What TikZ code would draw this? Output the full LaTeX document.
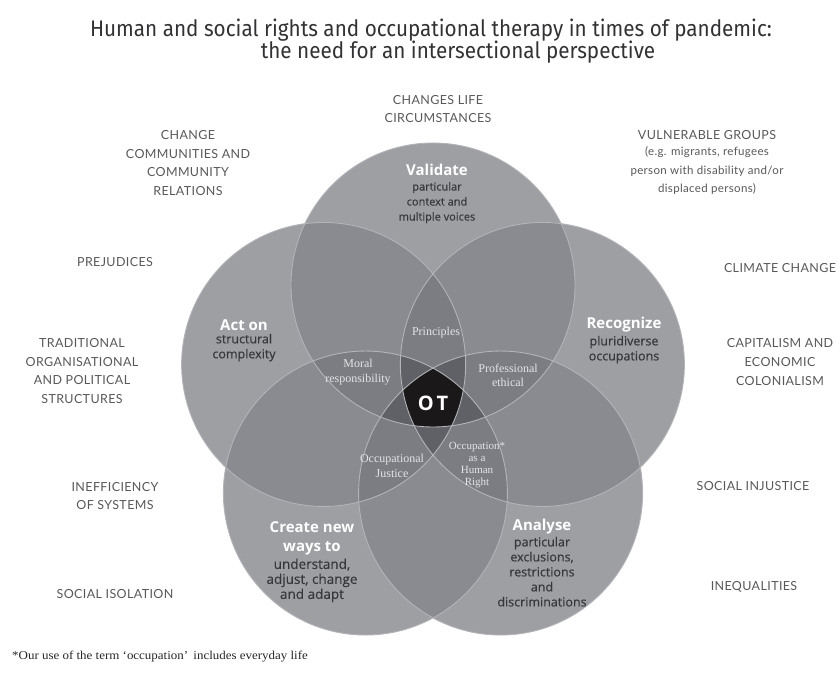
\documentclass[tikz,border=0pt]{standalone}
\usepackage{fontspec}
\setmainfont{Liberation Serif}
\newfontfamily\titlefont[FakeStretch=0.92]{Fira Sans}
\newfontfamily\headfont{Open Sans}
\newfontfamily\bodyfont[FakeBold=0.4]{Open Sans}
\newfontfamily\ctxfont[LetterSpace=3]{Lato}
\newfontfamily\notefont[FakeStretch=1.08]{Liberation Serif}
\usetikzlibrary{positioning}
\definecolor{ring1}{RGB}{157,159,163}
\definecolor{ring2}{RGB}{137,139,144}
\definecolor{ring3}{RGB}{123,125,130}
\definecolor{ring4}{RGB}{95,97,102}
\definecolor{ring5}{RGB}{27,24,25}
\definecolor{ringedge}{RGB}{178,180,183}
\definecolor{ctxtext}{RGB}{88,88,90}
\definecolor{ringtext}{RGB}{55,56,60}
\definecolor{meettext}{RGB}{228,228,230}
\definecolor{titletext}{RGB}{50,50,52}

\begin{document}
\begin{tikzpicture}[x=1pt, y=1pt,
    ctxlabel/.style={align=center, inner sep=0pt, text=ctxtext, font=\ctxfont\fontsize{12.5}{18.7}\selectfont},
    ringhead/.style={align=center, inner sep=0pt, text=white, font=\headfont\bfseries\fontsize{15}{19}\selectfont},
    ringbody/.style={align=center, inner sep=0pt, text=ringtext, font=\bodyfont\fontsize{#1}{15}\selectfont},
    ringbody/.default=12.5,
    meetlabel/.style={align=center, inner sep=0pt, text=meettext, font=\fontsize{12}{14.5}\selectfont},
    ringedgeline/.style={draw=ringedge, line width=0.9pt}]
    \useasboundingbox (0,0) rectangle (840,679);
    \def\vennr{142pt}

    % Title
    \node[font=\titlefont\fontsize{22.5}{21}\selectfont, text=titletext, inner sep=0pt] (title1) at (431,649) {Human and social rights and occupational therapy in times of pandemic:};
    \node[font=\titlefont\fontsize{22.5}{21}\selectfont, text=titletext, inner sep=0pt] (title2) at (458,627) {the need for an intersectional perspective};

    % Circle centres on a pentagon
    \coordinate (O) at (433,279);
    \foreach \n/\a in {1/90,2/18,3/-54,4/-126,5/162}
        \path (O) ++(\a:115) coordinate (c\n);

    % Regions, darker with each overlap
    \foreach \i in {1,...,5}
        \fill[ring1] (c\i) circle[radius=\vennr];
    \foreach \i/\j in {1/2,1/3,1/4,1/5,2/3,2/4,2/5,3/4,3/5,4/5}{
        \begin{scope}
            \clip (c\i) circle[radius=\vennr];
            \fill[ring2] (c\j) circle[radius=\vennr];
        \end{scope}
    }
    \foreach \i/\j/\k in {1/2/3,1/2/4,1/2/5,1/3/4,1/3/5,1/4/5,2/3/4,2/3/5,2/4/5,3/4/5}{
        \begin{scope}
            \clip (c\i) circle[radius=\vennr];
            \clip (c\j) circle[radius=\vennr];
            \fill[ring3] (c\k) circle[radius=\vennr];
        \end{scope}
    }
    \foreach \i/\j/\k/\l in {2/3/4/5,1/3/4/5,1/2/4/5,1/2/3/5,1/2/3/4}{
        \begin{scope}
            \clip (c\i) circle[radius=\vennr];
            \clip (c\j) circle[radius=\vennr];
            \clip (c\k) circle[radius=\vennr];
            \fill[ring4] (c\l) circle[radius=\vennr];
        \end{scope}
    }
    \begin{scope}
        \clip (c1) circle[radius=\vennr];
        \clip (c2) circle[radius=\vennr];
        \clip (c3) circle[radius=\vennr];
        \clip (c4) circle[radius=\vennr];
        \fill[ring5] (c5) circle[radius=\vennr];
    \end{scope}
    \foreach \i in {1,...,5}
        \draw[ringedgeline] (c\i) circle[radius=\vennr];

    % Circle texts
    \node[ringhead] (validate) at (437,509) {Validate};
    \node[ringbody=11, below=6pt of validate] (validatetxt) {particular\\context and\\multiple voices};
    \node[ringhead] (acton) at (244,354) {Act on};
    \node[ringbody, below=3pt of acton] (actontxt) {structural\\complexity};
    \node[ringhead] (recognize) at (624,354) {Recognize};
    \node[ringbody, below=3pt of recognize] (recognizetxt) {pluridiverse\\occupations};
    \node[ringhead] (create) at (312,140.5) {Create new\\ways to};
    \node[ringbody=13.5, below=3pt of create] (createtxt) {understand,\\adjust, change\\and adapt};
    \node[ringhead] (analyse) at (542,152) {Analyse};
    \node[ringbody, below=2pt of analyse] (analysetxt) {particular\\exclusions,\\restrictions\\and\\discriminations};

    % Overlap texts
    \node[meetlabel] (principles) at (436,346) {Principles};
    \node[meetlabel] (moral) at (358,307) {Moral\\responsibility};
    \node[meetlabel] (ethical) at (508,303.5) {Professional\\ethical};
    \node[meetlabel] (justice) at (392,213) {Occupational\\Justice};
    \node[meetlabel, font=\fontsize{11}{12}\selectfont] (right) at (477,214) {Occupation*\\as a\\Human\\Right};
    \node[text=white, font=\headfont\bfseries\fontsize{20}{20}\selectfont, inner sep=0pt] (ot) at (433,276) {O\hspace{3pt}T};

    % Context around the diagram
    \node[ctxlabel] (changes) at (438,570) {CHANGES LIFE\\CIRCUMSTANCES};
    \node[ctxlabel] (community) at (188,516) {CHANGE\\COMMUNITIES AND\\COMMUNITY\\RELATIONS};
    \node[ctxlabel] (vulnerable) at (707,544) {VULNERABLE GROUPS};
    \node[ctxlabel, font=\ctxfont\fontsize{11.5}{18.5}\selectfont, below=7pt of vulnerable] (vulnerabletxt) {(e.g. migrants, refugees\\person with disability and/or\\displaced persons)};
    \node[ctxlabel] (prejudices) at (115,417) {PREJUDICES};
    \node[ctxlabel] (climate) at (780,411) {CLIMATE CHANGE};
    \node[ctxlabel] (traditional) at (82,308) {TRADITIONAL\\ORGANISATIONAL\\AND POLITICAL\\STRUCTURES};
    \node[ctxlabel] (capitalism) at (780,317) {CAPITALISM AND\\ECONOMIC\\COLONIALISM};
    \node[ctxlabel] (inefficiency) at (115,183) {INEFFICIENCY\\OF SYSTEMS};
    \node[ctxlabel] (injustice) at (753,193) {SOCIAL INJUSTICE};
    \node[ctxlabel] (isolation) at (115,85) {SOCIAL ISOLATION};
    \node[ctxlabel] (inequalities) at (754,92) {INEQUALITIES};

    % Footnote
    \node[anchor=west, inner sep=0pt, text=black!85, font=\notefont\fontsize{12}{12}\selectfont] (note) at (12,22) {*Our use of the term ‘occupation’\, includes everyday life};
\end{tikzpicture}
\end{document}
